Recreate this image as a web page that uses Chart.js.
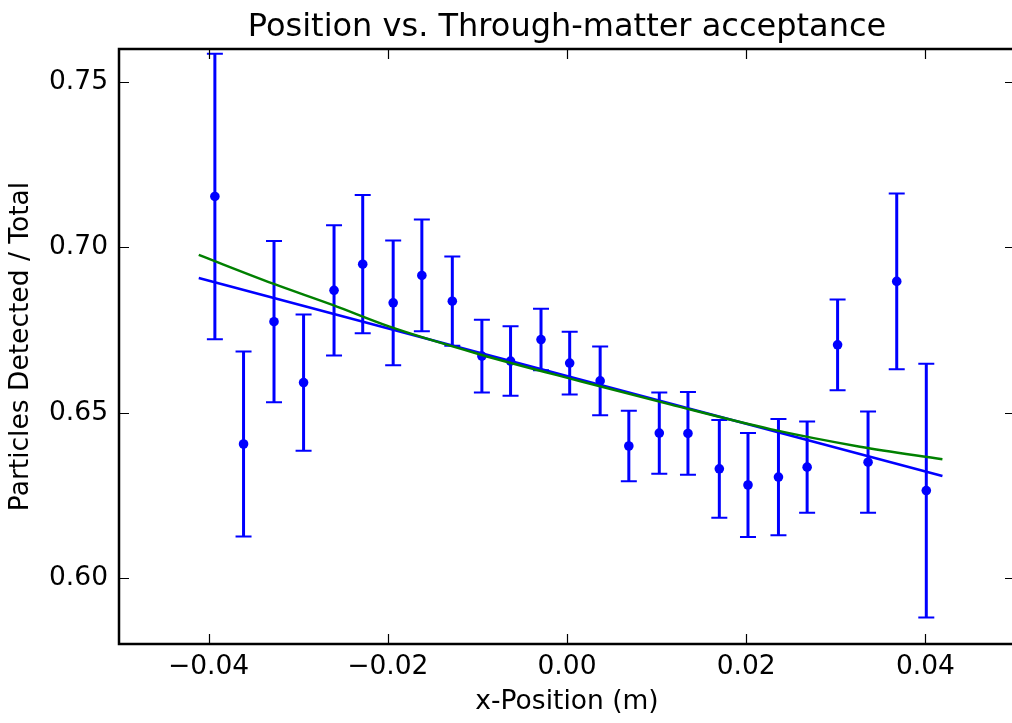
<!DOCTYPE html>
<html>
<head>
<meta charset="utf-8">
<script src="https://cdn.jsdelivr.net/npm/chart.js@4/dist/chart.umd.min.js"></script>
<style>
  html, body { margin: 0; padding: 0; background: #fff; overflow: hidden; }
  #wrap { width: 1012px; height: 723px; overflow: hidden; }
</style>
</head>
<body>
<div id="wrap"><canvas id="accept" width="1015" height="723"></canvas></div>
<script>
// measured points (bin centre, ratio, half error)
const xPos = [-0.0393, -0.0361, -0.0327, -0.0294, -0.0260, -0.0228, -0.0194, -0.0162, -0.0128,
  -0.0095, -0.0063, -0.0029, 0.0003, 0.0037, 0.0069, 0.0103, 0.0135, 0.0170, 0.0202, 0.0236,
  0.0268, 0.0302, 0.0336, 0.0368, 0.0401];
const ratio = [0.7154, 0.6405, 0.6775, 0.6591, 0.6870, 0.6949, 0.6832, 0.6915, 0.6837,
  0.6671, 0.6656, 0.6721, 0.6650, 0.6596, 0.6399, 0.6438, 0.6437, 0.6330, 0.6281, 0.6305,
  0.6335, 0.6705, 0.6350, 0.6897, 0.6264];
const ratioErr = [0.0432, 0.0280, 0.0244, 0.0206, 0.0197, 0.0209, 0.0189, 0.0169, 0.0135,
  0.0110, 0.0105, 0.0093, 0.0095, 0.0104, 0.0107, 0.0123, 0.0125, 0.0148, 0.0157, 0.0176,
  0.0138, 0.0137, 0.0153, 0.0266, 0.0384];

// linear fit
const linX = [-0.0411, 0.0419];
const linY = [0.6907, 0.6308];

// curved fit
const curveX = [-0.0411, -0.0328, -0.0261, -0.0198, -0.0097, 0.0015, 0.0115, 0.0227, 0.0327, 0.0419];
const curveY = [0.6977, 0.6890, 0.6825, 0.6760, 0.6676, 0.6595, 0.6525, 0.6450, 0.6397, 0.6359];

const xTicks = [-0.04, -0.02, 0.00, 0.02, 0.04];
const yTicks = [0.60, 0.65, 0.70, 0.75];

const titleText = 'Position vs. Through-matter acceptance';
const blue = '#0000ff';
const green = '#008000';
const font = 'DejaVu Sans';

const pts = xPos.map((x, i) => ({ x: x, y: ratio[i] }));
const linPts = linX.map((x, i) => ({ x: x, y: linY[i] }));
const curvePts = curveX.map((x, i) => ({ x: x, y: curveY[i] }));

function fmt(v) {
  const s = Math.abs(v).toFixed(2);
  return v < -1e-9 ? '\u2212' + s : s;
}

// error bars under the markers
const errorBars = {
  id: 'errorBars',
  beforeDatasetsDraw(chart) {
    const { ctx, scales: { x, y } } = chart;
    ctx.save();
    ctx.strokeStyle = blue;
    xPos.forEach((xv, i) => {
      const px = x.getPixelForValue(xv);
      const top = y.getPixelForValue(ratio[i] + ratioErr[i]);
      const bot = y.getPixelForValue(ratio[i] - ratioErr[i]);
      ctx.lineWidth = 3;
      ctx.beginPath();
      ctx.moveTo(px, top);
      ctx.lineTo(px, bot);
      ctx.stroke();
      ctx.lineWidth = 2;
      ctx.beginPath();
      ctx.moveTo(px - 8, top);
      ctx.lineTo(px + 8, top);
      ctx.moveTo(px - 8, bot);
      ctx.lineTo(px + 8, bot);
      ctx.stroke();
    });
    ctx.restore();
  }
};

// frame, inward ticks on all sides, title
const frame = {
  id: 'frame',
  afterDraw(chart) {
    const { ctx, chartArea: a, scales: { x, y } } = chart;
    ctx.save();
    ctx.strokeStyle = '#000';
    ctx.lineWidth = 1.2;
    ctx.beginPath();
    xTicks.forEach(v => {
      const px = Math.round(x.getPixelForValue(v)) + 0.5;
      ctx.moveTo(px, a.bottom); ctx.lineTo(px, a.bottom - 10);
      ctx.moveTo(px, a.top); ctx.lineTo(px, a.top + 10);
    });
    yTicks.forEach(v => {
      const py = Math.round(y.getPixelForValue(v)) + 0.5;
      ctx.moveTo(a.left, py); ctx.lineTo(a.left + 10, py);
      ctx.moveTo(a.right, py); ctx.lineTo(a.right - 10, py);
    });
    ctx.stroke();
    ctx.lineWidth = 2.5;
    ctx.strokeRect(a.left, a.top, a.right - a.left, a.bottom - a.top);

    ctx.fillStyle = '#000';
    ctx.font = '32px "' + font + '"';
    ctx.textAlign = 'center';
    ctx.textBaseline = 'alphabetic';
    ctx.fillText(titleText, (a.left + a.right) / 2, 36);
    ctx.restore();
  }
};

new Chart(document.getElementById('accept'), {
  type: 'scatter',
  data: {
    datasets: [
      {
        label: 'quadratic fit',
        type: 'line',
        data: curvePts,
        borderColor: green,
        borderWidth: 2.5,
        pointRadius: 0,
        cubicInterpolationMode: 'monotone',
        fill: false,
        order: 0
      },
      {
        label: 'linear fit',
        type: 'line',
        data: linPts,
        borderColor: blue,
        borderWidth: 2.5,
        pointRadius: 0,
        fill: false,
        order: 1
      },
      {
        label: 'data',
        data: pts,
        backgroundColor: blue,
        borderColor: blue,
        borderWidth: 0,
        pointRadius: 4.8,
        order: 2
      }
    ]
  },
  options: {
    responsive: false,
    animation: false,
    devicePixelRatio: 1,
    layout: { autoPadding: false, padding: { top: 49, right: 0, left: 0, bottom: 0 } },
    plugins: {
      legend: { display: false },
      tooltip: { enabled: false },
      title: { display: false }
    },
    scales: {
      x: {
        type: 'linear',
        min: -0.05,
        max: 0.05,
        afterBuildTicks: s => { s.ticks = xTicks.map(v => ({ value: v })); },
        afterFit: s => { s.height = 79; s.paddingLeft = 0; s.paddingRight = 0; },
        grid: { display: false, drawTicks: false },
        border: { display: false },
        ticks: {
          padding: 7,
          color: '#000',
          font: { family: font, size: 26.5 },
          maxRotation: 0,
          callback: v => fmt(v)
        },
        title: {
          display: true,
          text: 'x-Position (m)',
          color: '#000',
          font: { family: font, size: 26.5 },
          padding: { top: 0, bottom: 5 }
        }
      },
      y: {
        type: 'linear',
        min: 0.58,
        max: 0.76,
        afterBuildTicks: s => { s.ticks = yTicks.map(v => ({ value: v })); },
        afterFit: s => { s.width = 119; },
        grid: { display: false, drawTicks: false },
        border: { display: false },
        ticks: {
          padding: 11,
          color: '#000',
          font: { family: font, size: 26.5 },
          callback: v => fmt(v)
        },
        title: {
          display: true,
          text: 'Particles Detected / Total',
          color: '#000',
          font: { family: font, size: 26.5 },
          padding: { top: 5, bottom: 0 }
        }
      }
    }
  },
  plugins: [errorBars, frame]
});
</script>
</body>
</html>
